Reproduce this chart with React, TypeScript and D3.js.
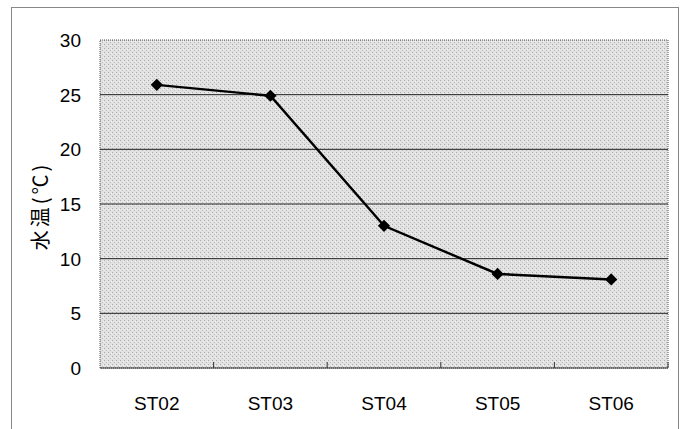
import React from "react";
import * as d3 from "d3";

const categories = ["ST02", "ST03", "ST04", "ST05", "ST06"];
const waterTemp = [25.9, 24.9, 13.0, 8.6, 8.1];
const yTicks = [0, 5, 10, 15, 20, 25, 30];
const yLabel = "水温(℃)";

export default function App() {
  const W = 683, H = 429;
  const plot = { left: 100, top: 40, right: 668, bottom: 368 };
  const x = d3.scaleBand().domain(categories).range([plot.left, plot.right]).padding(0);
  const y = d3.scaleLinear().domain([0, 30]).range([plot.bottom, plot.top]);
  const line = d3.line<number>()
    .x((_, i) => (x(categories[i]) as number) + x.bandwidth() / 2)
    .y((d) => y(d));
  const font = "'Liberation Sans', Arial, sans-serif";
  const diamond = d3.symbol().type(d3.symbolDiamond2).size(95)();
  return (
    <svg width={W} height={H} style={{ position: "absolute", left: 0, top: 0, background: "#fff" }}>
      <defs>
        <pattern id="stip" width="4" height="4" patternUnits="userSpaceOnUse">
          <rect width="4" height="4" fill="#e2e2e2" />
          <rect x="0" y="0" width="1" height="1" fill="#aaaaaa" />
          <rect x="2" y="2" width="1" height="1" fill="#bbbbbb" />
          <rect x="3" y="1" width="1" height="1" fill="#f2f2f2" />
        </pattern>
      </defs>
      <rect x={11.5} y={7.5} width={667} height={440} fill="none" stroke="#888" strokeWidth={1} />
      <rect x={plot.left} y={plot.top} width={plot.right - plot.left} height={plot.bottom - plot.top}
        fill="url(#stip)" stroke="#555" strokeWidth={1} strokeDasharray="1,1" />
      {yTicks.filter((t) => t > 0 && t < 30).map((t) => (
        <line key={t} x1={plot.left} x2={plot.right} y1={y(t)} y2={y(t)} stroke="#222" strokeWidth={1} />
      ))}
      <line x1={plot.left} x2={plot.right} y1={plot.bottom} y2={plot.bottom} stroke="#333" strokeWidth={1.2} />
      {categories.slice(1).map((c) => (
        <line key={c} x1={x(c)} x2={x(c)} y1={plot.bottom} y2={plot.bottom - 6} stroke="#333" strokeWidth={1} />
      ))}
      <line x1={plot.right} x2={plot.right} y1={plot.bottom} y2={plot.bottom - 6} stroke="#333" strokeWidth={1} />
      {yTicks.map((t) => (
        <text key={t} x={81} y={y(t)} dy="0.36em" textAnchor="end" fontFamily={font} fontSize={19} fill="#000">{t}</text>
      ))}
      {categories.map((c) => (
        <text key={c} x={(x(c) as number) + x.bandwidth() / 2} y={410} textAnchor="middle" fontFamily={font} fontSize={19} fill="#000">{c}</text>
      ))}
      <text transform="translate(48,206) rotate(-90)" textAnchor="middle" fontFamily="'Noto Sans CJK JP', sans-serif" fontSize={20} letterSpacing={3} fill="#000">{yLabel}</text>
      <path d={line(waterTemp) || ""} fill="none" stroke="#000" strokeWidth={2.4} />
      {waterTemp.map((v, i) => (
        <path key={i} d={diamond || ""} transform={`translate(${(x(categories[i]) as number) + x.bandwidth() / 2},${y(v)})`} fill="#000" />
      ))}
    </svg>
  );
}
